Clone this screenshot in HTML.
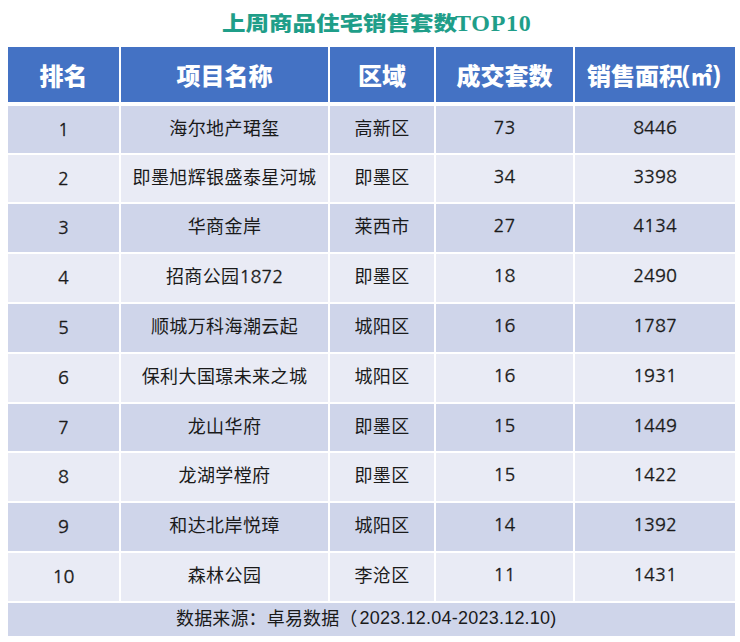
<!DOCTYPE html>
<html lang="zh-CN"><head><meta charset="utf-8"><title>上周商品住宅销售套数TOP10</title>
<style>
html,body{margin:0;padding:0;background:#fff;}
body{width:740px;height:642px;position:relative;overflow:hidden;}
.t{position:absolute;left:222px;top:10px;white-space:nowrap;font-weight:bold;color:#1f9e89;line-height:30px;height:30px;}
.t .cj{font-family:"Liberation Sans","Noto Sans CJK SC",sans-serif;font-weight:900;font-size:23.5px;display:inline-block;transform:scaleY(0.85);transform-origin:50% 50%;position:relative;top:-1px;}
.t .la{font-family:"Liberation Serif",serif;font-size:24px;letter-spacing:0.7px;margin-left:-2px;position:relative;top:-2.5px;}
.c{position:absolute;display:flex;align-items:center;justify-content:center;white-space:nowrap;font-family:"Liberation Sans","Noto Sans CJK SC",sans-serif;font-size:18px;color:#1a1a1a;}
.c>span{position:relative;}
.h{background:#4472C4;color:#fff;font-weight:900;font-size:24px;}
.h5{justify-content:flex-start;box-sizing:border-box;padding-left:12px;}
.o{background:#CFD5EA;}
.e{background:#E9EBF5;}
.k{top:0.9px;font-family:"NanumGothic","Liberation Sans",sans-serif;font-size:18px;-webkit-text-stroke:0.3px #1a1a1a;}
.k1{top:0.6px;}
.n{top:-1.3px;font-family:"NanumGothic","Liberation Sans",sans-serif;font-size:18px;-webkit-text-stroke:0.3px #1a1a1a;}
.z{top:-2.8px;letter-spacing:0.4px;}
.z .d{font-family:"NanumGothic","Liberation Sans",sans-serif;font-size:18px;letter-spacing:0;position:relative;top:0.4px;-webkit-text-stroke:0.3px #1a1a1a;}
.pl{margin-left:-1.5px;margin-right:1px;}
.m2{display:inline-block;width:19px;transform:scaleX(0.88);transform-origin:0 50%;}
.pr{margin-left:3.5px;}
.fl{position:relative;top:-1px;margin-left:2px;letter-spacing:0.22px;}
.ft{position:absolute;left:176px;top:604px;height:30px;line-height:30px;white-space:nowrap;font-family:"Liberation Sans","Noto Sans CJK SC",sans-serif;font-size:18px;color:#1a1a1a;letter-spacing:0.15px;}
</style></head><body>
<div class="t"><span class="cj">上周商品住宅销售套数</span><span class="la">TOP10</span></div>

<div class="c h" style="left:8px;top:47px;width:111px;height:55px">排名</div>
<div class="c h" style="left:121px;top:47px;width:207px;height:55px">项目名称</div>
<div class="c h" style="left:330px;top:47px;width:104px;height:55px">区域</div>
<div class="c h" style="left:436px;top:47px;width:137px;height:55px">成交套数</div>
<div class="c h h5" style="left:575px;top:47px;width:160px;height:55px">销售面积<span class="pl">(</span><span class="m2">㎡</span><span class="pr">)</span></div>
<div class="c o" style="left:8px;top:106px;width:111px;height:47px"><span class="k k1">1</span></div>
<div class="c o" style="left:121px;top:106px;width:207px;height:47px"><span class="z">海尔地产珺玺</span></div>
<div class="c o" style="left:330px;top:106px;width:104px;height:47px"><span class="z">高新区</span></div>
<div class="c o" style="left:436px;top:106px;width:137px;height:47px"><span class="n">73</span></div>
<div class="c o" style="left:575px;top:106px;width:160px;height:47px"><span class="n">8446</span></div>
<div class="c e" style="left:8px;top:155px;width:111px;height:47px"><span class="k">2</span></div>
<div class="c e" style="left:121px;top:155px;width:207px;height:47px"><span class="z">即墨旭辉银盛泰星河城</span></div>
<div class="c e" style="left:330px;top:155px;width:104px;height:47px"><span class="z">即墨区</span></div>
<div class="c e" style="left:436px;top:155px;width:137px;height:47px"><span class="n">34</span></div>
<div class="c e" style="left:575px;top:155px;width:160px;height:47px"><span class="n">3398</span></div>
<div class="c o" style="left:8px;top:204px;width:111px;height:48px"><span class="k">3</span></div>
<div class="c o" style="left:121px;top:204px;width:207px;height:48px"><span class="z">华商金岸</span></div>
<div class="c o" style="left:330px;top:204px;width:104px;height:48px"><span class="z">莱西市</span></div>
<div class="c o" style="left:436px;top:204px;width:137px;height:48px"><span class="n">27</span></div>
<div class="c o" style="left:575px;top:204px;width:160px;height:48px"><span class="n">4134</span></div>
<div class="c e" style="left:8px;top:254px;width:111px;height:48px"><span class="k">4</span></div>
<div class="c e" style="left:121px;top:254px;width:207px;height:48px"><span class="z">招商公园<span class="d">1872</span></span></div>
<div class="c e" style="left:330px;top:254px;width:104px;height:48px"><span class="z">即墨区</span></div>
<div class="c e" style="left:436px;top:254px;width:137px;height:48px"><span class="n">18</span></div>
<div class="c e" style="left:575px;top:254px;width:160px;height:48px"><span class="n">2490</span></div>
<div class="c o" style="left:8px;top:304px;width:111px;height:48px"><span class="k">5</span></div>
<div class="c o" style="left:121px;top:304px;width:207px;height:48px"><span class="z">顺城万科海潮云起</span></div>
<div class="c o" style="left:330px;top:304px;width:104px;height:48px"><span class="z">城阳区</span></div>
<div class="c o" style="left:436px;top:304px;width:137px;height:48px"><span class="n">16</span></div>
<div class="c o" style="left:575px;top:304px;width:160px;height:48px"><span class="n">1787</span></div>
<div class="c e" style="left:8px;top:354px;width:111px;height:48px"><span class="k">6</span></div>
<div class="c e" style="left:121px;top:354px;width:207px;height:48px"><span class="z">保利大国璟未来之城</span></div>
<div class="c e" style="left:330px;top:354px;width:104px;height:48px"><span class="z">城阳区</span></div>
<div class="c e" style="left:436px;top:354px;width:137px;height:48px"><span class="n">16</span></div>
<div class="c e" style="left:575px;top:354px;width:160px;height:48px"><span class="n">1931</span></div>
<div class="c o" style="left:8px;top:404px;width:111px;height:47px"><span class="k">7</span></div>
<div class="c o" style="left:121px;top:404px;width:207px;height:47px"><span class="z">龙山华府</span></div>
<div class="c o" style="left:330px;top:404px;width:104px;height:47px"><span class="z">即墨区</span></div>
<div class="c o" style="left:436px;top:404px;width:137px;height:47px"><span class="n">15</span></div>
<div class="c o" style="left:575px;top:404px;width:160px;height:47px"><span class="n">1449</span></div>
<div class="c e" style="left:8px;top:453px;width:111px;height:48px"><span class="k">8</span></div>
<div class="c e" style="left:121px;top:453px;width:207px;height:48px"><span class="z">龙湖学樘府</span></div>
<div class="c e" style="left:330px;top:453px;width:104px;height:48px"><span class="z">即墨区</span></div>
<div class="c e" style="left:436px;top:453px;width:137px;height:48px"><span class="n">15</span></div>
<div class="c e" style="left:575px;top:453px;width:160px;height:48px"><span class="n">1422</span></div>
<div class="c o" style="left:8px;top:503px;width:111px;height:48px"><span class="k">9</span></div>
<div class="c o" style="left:121px;top:503px;width:207px;height:48px"><span class="z">和达北岸悦璋</span></div>
<div class="c o" style="left:330px;top:503px;width:104px;height:48px"><span class="z">城阳区</span></div>
<div class="c o" style="left:436px;top:503px;width:137px;height:48px"><span class="n">14</span></div>
<div class="c o" style="left:575px;top:503px;width:160px;height:48px"><span class="n">1392</span></div>
<div class="c e" style="left:8px;top:553px;width:111px;height:48px"><span class="k">10</span></div>
<div class="c e" style="left:121px;top:553px;width:207px;height:48px"><span class="z">森林公园</span></div>
<div class="c e" style="left:330px;top:553px;width:104px;height:48px"><span class="z">李沧区</span></div>
<div class="c e" style="left:436px;top:553px;width:137px;height:48px"><span class="n">11</span></div>
<div class="c e" style="left:575px;top:553px;width:160px;height:48px"><span class="n">1431</span></div>
<div class="c o" style="left:8px;top:603px;width:727px;height:33px"></div>
<div class="ft">数据来源：卓易数据（<span class="fl">2023.12.04-2023.12.10)</span></div>
</body></html>
